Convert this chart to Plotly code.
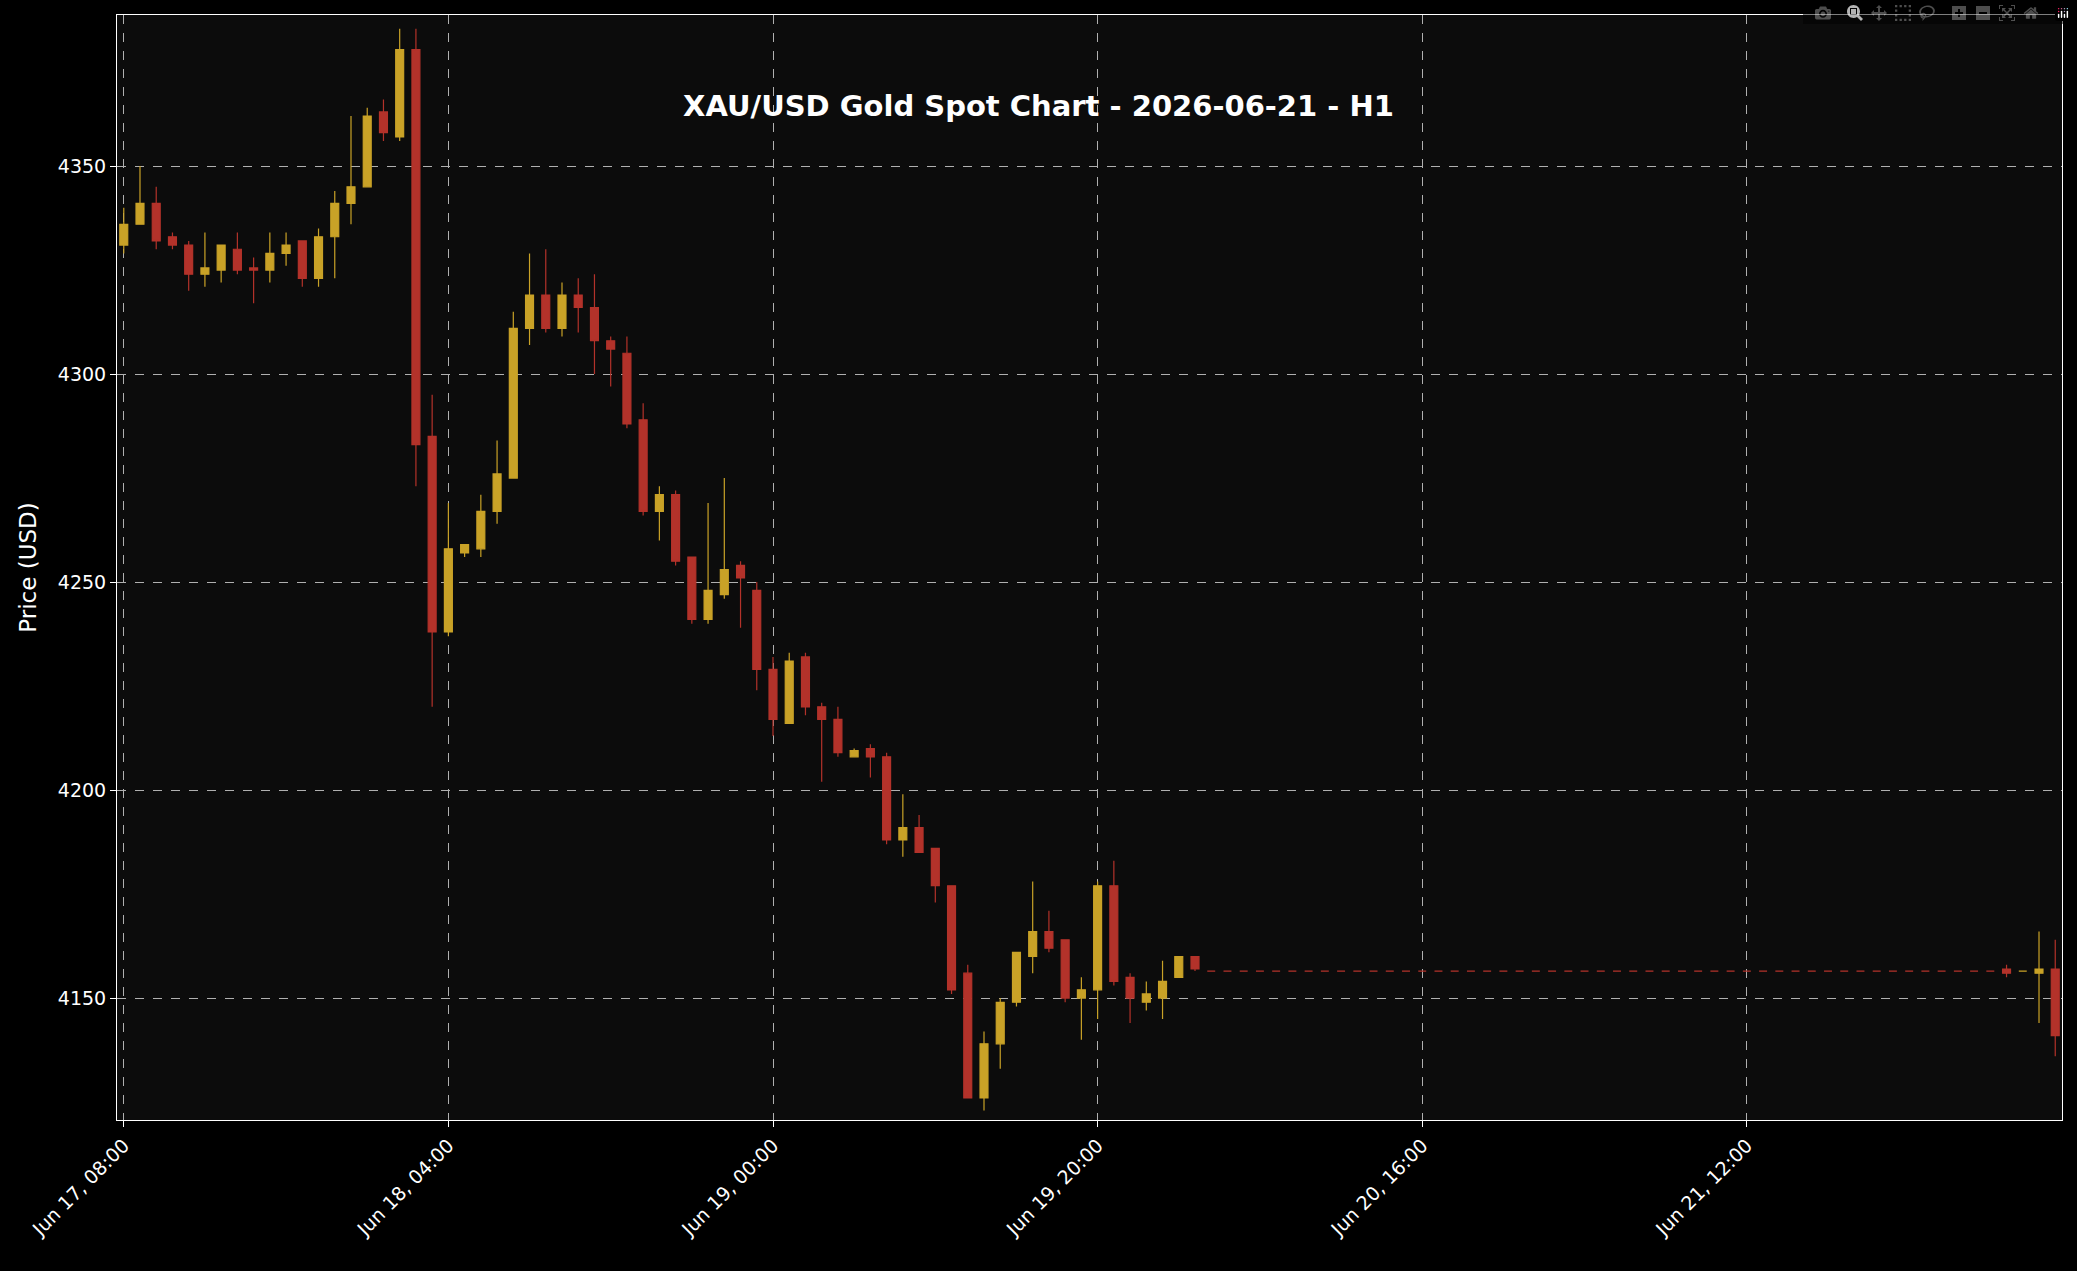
import pandas as pd
import plotly.graph_objects as go

start = "2026-06-17 08:00"
opens = [4331,4336,4341,4333,4331,4324,4325,4330,4325.5,4325,4329,4332,4323,4333,4341,4345,4363,4357,4378,4285,
         4238,4257,4258,4267,4275,4311,4319,4311,4319,4316,4308,4305,4289,4267,4271,4256,4241,4247,4254,4248,
         4229,4216,4232,4220,4217,4208,4210,4208,4188,4191,4186,4177,4156,4126,4139,4149,4160,4166,4164,4150,
         4152,4177,4155,4149,4150,4155,4160]
highs = [4340,4350,4345,4334,4332,4334,4331,4334,4328,4334,4334,4332,4335,4344,4362,4364,4366,4383,4383,4295,
         4269,4259,4271,4284,4315,4329,4330,4322,4323,4324,4309,4309,4293,4273,4272,4256,4269,4275,4255,4250,
         4232,4233,4233,4221,4220,4210,4211,4209,4199,4194,4186,4177,4158,4142,4150,4161,4178,4171,4164,4155,
         4178,4183,4156,4154,4159,4160,4160]
lows = [4329,4336,4330,4330,4320,4321,4322,4324,4317,4322,4326,4321,4321,4323,4336,4345,4356,4356,4273,4220,
        4237,4256,4256,4264,4275,4307,4310,4309,4310,4300,4297,4287,4266,4260,4254,4240,4240,4246,4239,4224,
        4213,4216,4218,4202,4208,4208,4203,4187,4184,4185,4173,4151,4126,4123,4133,4148,4156,4161,4149,4140,
        4145,4153,4144,4147,4145,4155,4156.5]
closes = [4336,4341,4332,4331,4324,4325.5,4331,4325,4325,4329,4331,4323,4333,4341,4345,4362,4358,4378,4283,4238,
          4258,4259,4267,4276,4311,4319,4311,4319,4316,4308,4306,4288,4267,4271,4255,4241,4248,4253,4251,4229,
          4217,4231,4220,4217,4209,4209.5,4208,4188,4191,4185,4177,4152,4126,4139,4149,4161,4166,4162,4150,4152,
          4177,4154,4150,4151,4154,4160,4157]
flat_count = 49
flat_price = 4156.5
tail_open = [4157, 4156.5, 4156, 4157]
tail_high = [4158, 4156.5, 4166, 4164]
tail_low = [4155, 4156.5, 4144, 4136]
tail_close = [4156, 4156.5, 4157, 4141]

o = opens + [flat_price]*flat_count + tail_open
h = highs + [flat_price]*flat_count + tail_high
l = lows + [flat_price]*flat_count + tail_low
c = closes + [flat_price]*flat_count + tail_close
dates = pd.date_range(start, periods=len(o), freq="h")

title = "XAU/USD Gold Spot Chart - 2026-06-21 - H1"
tick_dates = pd.date_range(start, periods=6, freq="20h")
tick_text = [d.strftime("%b %d, %H:%M") for d in tick_dates]

YEL = "#c9a227"
RED = "#b3322a"

fig = go.Figure(go.Candlestick(
    x=dates, open=o, high=h, low=l, close=c,
    increasing=dict(line=dict(color=YEL, width=1.2), fillcolor=YEL),
    decreasing=dict(line=dict(color=RED, width=1.2), fillcolor=RED),
    whiskerwidth=0, showlegend=False,
))

x0 = pd.Timestamp(start) - pd.Timedelta(minutes=25)
x1 = dates[-1] + pd.Timedelta(minutes=25)
fig.update_layout(
    width=2077, height=1271,
    paper_bgcolor="#000000", plot_bgcolor="#0c0c0c",
    margin=dict(l=117, r=15, t=15, b=151),
    font=dict(family="DejaVu Sans", color="white", size=19),
    title=dict(text="<b>" + title + "</b>", x=0.5, xanchor="center", y=0.925, yanchor="top",
               font=dict(size=29, color="white")),
    xaxis=dict(range=[x0, x1], rangeslider=dict(visible=False), tickvals=list(tick_dates), ticktext=tick_text,
               tickangle=-45, showgrid=True, gridcolor="#b0b0b0", griddash="dash", gridwidth=1,
               showline=True, linecolor="white", mirror=True, ticks="outside", tickcolor="white", ticklen=6,
               zeroline=False),
    yaxis=dict(range=[4120.7, 4386.3], dtick=50, title=dict(text="Price (USD)", standoff=14),
               showgrid=True, gridcolor="#b0b0b0", griddash="dash", gridwidth=1,
               showline=True, linecolor="white", mirror=True, ticks="outside", tickcolor="white", ticklen=6,
               zeroline=False),
)
fig.write_html("out.html", post_script="document.body.style.margin='0';document.body.style.background='#000';")
